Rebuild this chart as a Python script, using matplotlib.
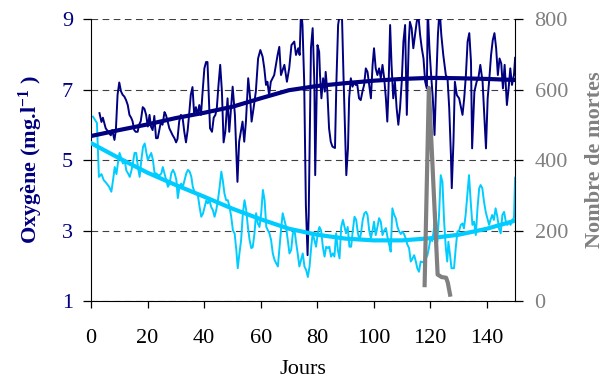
import matplotlib
matplotlib.use('Agg')
import matplotlib.pyplot as plt

plt.rcParams['font.family'] = ['Liberation Serif', 'DejaVu Serif']
plt.rcParams['mathtext.fontset'] = 'custom'
plt.rcParams['mathtext.rm'] = 'Liberation Serif'
plt.rcParams['mathtext.bf'] = 'Liberation Serif:bold'

# --- oxygène, série foncée (surface) ---
jours_fonce = [3.0, 3.7, 4.2, 5.2, 6.1, 7.0, 7.5, 8.3, 8.8, 9.4, 10.0, 10.6, 11.2, 11.8, 12.4, 13.0,
               13.6, 14.2, 14.7, 15.3, 15.8, 16.5, 17.0, 17.6, 18.3, 18.9, 19.5, 20.1, 20.7, 21.2,
               21.8, 22.4, 23.0, 23.6, 24.7, 25.3, 26.0, 26.5, 27.1, 27.7, 28.3, 28.9, 29.5, 30.1,
               30.6, 31.2, 31.8, 32.4, 33.0, 33.6, 34.2, 34.7, 35.3, 35.9, 36.5, 37.1, 37.7, 38.3,
               38.9, 39.4, 40.1, 40.7, 41.2, 41.6, 42.1, 42.8, 43.4, 44.0, 44.5, 45.1, 45.7, 46.3,
               46.9, 47.5, 48.3, 48.9, 50.1, 50.9, 51.8, 52.4, 53.0, 53.6, 54.2, 54.8, 55.6, 56.3,
               56.8, 57.5, 58.3, 59.1, 59.9, 60.7, 61.3, 61.9, 62.4, 63.0, 63.6, 64.8, 66.0, 66.6,
               67.2, 68.4, 69.3, 70.1, 70.9, 71.9, 72.5, 73.3, 73.8, 74.3, 74.8, 75.4, 76.0, 76.6,
               77.0, 77.5, 77.8, 78.4, 79.0, 79.3, 79.8, 80.1, 80.7, 81.0, 81.5, 82.1, 82.7, 83.0,
               83.6, 84.2, 84.8, 85.4, 86.3, 86.8, 87.4, 88.1, 88.7, 89.3, 89.9, 90.3, 90.9, 91.3,
               91.9, 92.5, 93.1, 93.6, 94.2, 94.8, 95.4, 96.0, 96.6, 97.2, 97.8, 98.4, 99.0, 99.6,
               100.1, 100.7, 101.3, 101.9, 102.5, 103.1, 103.7, 104.3, 104.8, 105.2, 105.8, 106.3,
               106.9, 107.5, 108.1, 108.7, 109.3, 109.9, 110.5, 111.1, 111.7, 112.0, 112.4, 112.8,
               113.4, 114.0, 114.6, 115.2, 115.8, 116.4, 117.0, 117.6, 118.2, 118.8, 119.1, 119.7,
               120.3, 120.9, 121.5, 122.1, 122.7, 123.3, 123.9, 124.6, 125.5, 126.1, 126.7, 127.3,
               127.6, 128.2, 128.7, 129.4, 130.2, 131.4, 132.0, 132.6, 133.2, 133.8, 134.4, 134.8,
               135.6, 136.4, 137.0, 137.7, 138.5, 139.7, 140.3, 140.9, 141.5, 142.1, 142.7, 143.3,
               143.9, 144.5, 145.1, 145.7, 146.3, 147.1, 147.7, 148.3, 148.9, 149.6, 150.0]
oxy_fonce = [6.33, 6.08, 6.2, 5.9, 5.8, 5.7, 5.85, 5.57, 5.85, 6.85, 7.2, 6.95, 6.85, 6.8, 6.7, 6.56,
             6.28, 6.2, 6.1, 5.85, 5.8, 5.8, 6.0, 6.1, 6.5, 6.45, 6.28, 5.95, 6.28, 5.95,
             5.85, 6.25, 5.62, 5.62, 6.07, 6.0, 6.36, 6.28, 6.1, 5.9, 5.8, 5.7, 5.62, 5.5,
             5.6, 6.1, 6.28, 6.2, 5.8, 5.5, 5.85, 6.28, 6.85, 7.07, 6.28, 6.5, 6.28, 6.56,
             6.28, 6.85, 7.6, 7.78, 7.78, 6.95, 5.9, 5.8, 6.2, 6.28, 6.47, 7.13, 7.7, 6.95,
             5.5, 5.8, 6.75, 5.8, 7.08, 6.28, 4.38, 5.52, 5.8, 6.09, 5.52, 6.09, 7.32, 6.75,
             6.09, 6.47, 6.94, 7.88, 8.12, 7.93, 7.6, 7.13, 7.22, 6.84, 7.22, 7.41, 7.98, 8.21,
             7.41, 7.7, 7.22, 7.6, 8.26, 8.36, 7.98, 8.17, 7.98, 9.3, 8.83, 7.22, 3.72, 2.3,
             3.44, 6.28, 8.18, 8.74, 7.22, 4.57, 6.75, 8.26, 8.07, 7.41, 6.75, 7.32, 6.94, 7.5,
             6.94, 5.9, 5.52, 5.38, 5.34, 7.22, 8.83, 9.2, 9.3, 7.41, 5.71, 4.57, 5.34, 6.75,
             7.32, 7.08, 7.22, 7.13, 7.13, 6.75, 6.7, 6.94, 7.13, 7.6, 7.5, 7.13, 6.75, 7.7,
             8.17, 7.6, 7.41, 7.6, 7.32, 7.7, 7.32, 6.75, 6.09, 6.94, 8.83, 7.7,
             6.75, 7.22, 6.47, 6.0, 6.47, 7.22, 8.36, 8.83, 6.28, 7.22, 8.36, 8.92,
             8.74, 8.17, 8.55, 8.92, 9.1, 8.55, 8.17, 7.88, 7.22, 7.03, 9.3, 8.17,
             7.41, 6.75, 5.71, 7.22, 8.55, 9.3, 8.55, 7.98, 7.41, 7.32, 6.47, 5.14,
             4.2, 5.52, 7.22, 6.84, 6.75, 6.28, 6.75, 7.41, 8.36, 8.6, 7.79, 5.33,
             6.94, 7.22, 7.32, 7.7, 7.22, 5.33, 6.75, 7.32, 7.98, 8.4, 8.6, 8.17,
             7.41, 7.88, 7.74, 7.03, 7.7, 6.56, 7.03, 7.6, 7.13, 7.41, 7.9]

# --- oxygène, série claire (fond) ---
jours_clair = [0.7, 2.1, 2.8, 3.7, 4.5, 5.4, 6.4, 7.2, 7.8, 8.4, 9.0, 9.5, 10.1, 10.7, 11.3, 11.9,
               12.5, 13.1, 13.7, 14.3, 14.8, 15.4, 16.0, 16.6, 17.2, 17.8, 18.4, 19.0, 19.6, 20.1,
               20.7, 21.3, 21.9, 22.5, 23.1, 23.7, 24.3, 24.9, 25.4, 26.0, 26.6, 27.2, 27.8, 28.4,
               29.0, 29.6, 30.2, 30.7, 31.3, 31.9, 32.5, 33.1, 33.7, 34.3, 34.9, 35.5, 36.0, 36.6,
               37.2, 37.8, 38.4, 39.0, 39.6, 40.2, 40.8, 41.3, 41.9, 42.5, 43.1, 43.7, 44.3, 44.9,
               45.5, 46.1, 46.6, 47.2, 47.8, 48.4, 49.0, 49.6, 50.2, 50.8, 51.4, 51.9, 52.5, 53.1,
               53.7, 54.3, 54.9, 55.5, 56.1, 56.7, 57.2, 57.8, 58.4, 59.0, 59.6, 60.2, 60.8, 61.4,
               62.0, 62.6, 63.1, 63.7, 64.3, 64.9, 65.5, 66.1, 66.7, 67.3, 67.8, 68.4, 69.0, 69.6,
               70.2, 70.8, 71.4, 72.0, 72.6, 73.1, 73.7, 74.3, 74.9, 75.5, 76.1, 76.7, 77.3, 77.9,
               78.4, 79.0, 79.6, 80.2, 80.8, 81.4, 82.0, 82.6, 83.2, 83.8, 84.3, 84.9, 85.5, 86.1,
               86.7, 87.3, 87.9, 88.5, 89.1, 89.7, 90.2, 90.8, 91.4, 92.0, 92.6, 93.2, 93.8, 94.4,
               95.0, 95.5, 96.1, 96.7, 97.3, 97.8, 98.4, 99.0, 99.6, 100.1, 100.7, 101.3, 101.9,
               102.5, 103.1, 103.7, 104.3, 104.9, 105.5, 106.0, 106.6, 107.2, 107.8, 108.4, 109.0,
               109.6, 110.1, 110.7, 111.3, 111.9, 112.5, 113.1, 113.7, 114.3, 114.9, 115.4, 116.0,
               116.6, 117.2, 117.8, 118.4, 119.0, 119.5, 120.1, 120.7, 121.3, 121.9, 122.5, 123.1,
               123.7, 124.3, 124.9, 125.5, 126.0, 126.4, 127.0, 127.5, 128.4, 129.0, 129.6, 130.2,
               130.8, 131.4, 131.9, 132.5, 133.1, 133.7, 134.3, 134.9, 135.5, 136.1, 136.7, 137.3,
               137.8, 138.4, 139.0, 139.6, 140.2, 140.8, 141.3, 141.9, 142.5, 143.1, 143.7, 144.3,
               144.9, 145.5, 146.1, 146.6, 147.2, 147.8, 148.4, 149.0, 149.6, 150.0]
oxy_clair = [6.23, 6.05, 4.52, 4.6, 4.43, 4.35, 4.24, 4.1, 4.43, 4.8, 4.6, 4.9, 5.2, 5.05, 4.9, 5.0,
             4.7, 4.62, 4.52, 4.7, 4.9, 5.2, 5.2, 4.8, 4.52, 5.0, 5.37, 5.47, 5.2, 5.0,
             5.1, 5.2, 5.0, 4.62, 4.62, 4.57, 4.57, 4.62, 4.8, 4.62, 4.43, 4.24, 4.33, 4.62,
             4.72, 4.62, 4.43, 3.92, 4.24, 4.33, 4.24, 4.43, 4.62, 4.72, 4.67, 4.52, 4.24, 4.1,
             4.05, 4.0, 3.67, 3.39, 3.48, 3.67, 3.86, 3.77, 3.86, 3.67, 3.58, 3.39, 3.58, 3.86,
             4.24, 4.67, 4.43, 4.05, 3.86, 3.86, 3.67, 3.39, 3.0, 2.92, 2.45, 1.93, 2.35, 2.73,
             3.48, 3.86, 3.58, 3.1, 2.73, 2.5, 2.53, 2.9, 3.49, 3.2, 3.1, 3.49, 4.15, 3.86,
             3.1, 3.0, 2.92, 2.73, 2.35, 2.17, 2.07, 1.98, 2.54, 3.1, 3.49, 3.3, 3.1, 2.73,
             2.35, 2.45, 2.92, 3.0, 2.63, 2.35, 1.98, 2.17, 2.35, 1.98, 1.88, 1.68, 1.98, 2.54,
             2.92, 2.73, 2.54, 2.92, 3.1, 3.0, 2.54, 2.26, 2.54, 2.5, 2.54, 2.26, 2.35, 2.26,
             2.92, 2.45, 2.21, 3.1, 3.3, 3.1, 2.92, 3.1, 2.54, 2.54, 3.0, 3.39, 3.3, 2.92,
             2.73, 2.92, 3.3, 3.49, 3.53, 3.44, 3.0, 2.79, 3.0, 3.25, 2.87, 3.1, 3.35,
             3.25, 2.87, 3.0, 3.07, 2.8, 2.59, 2.4, 3.63, 3.45, 3.35, 3.1, 2.97,
             2.9, 2.97, 2.9, 2.78, 2.6, 2.5, 2.12, 2.2, 2.3, 2.12, 1.93, 1.83,
             2.12, 2.1, 2.12, 2.2, 2.3, 2.5, 2.78, 2.7, 3.06, 3.53, 2.68, 3.44,
             4.57, 4.38, 3.25, 2.5, 2.12, 2.68, 2.3, 1.93, 1.93, 2.5, 2.97, 3.0,
             3.16, 3.2, 3.06, 3.44, 4.0, 4.57, 3.82, 3.16, 3.25, 2.87, 3.63, 4.2,
             4.29, 4.2, 3.82, 3.53, 3.35, 3.16, 3.3, 3.44, 3.3, 3.63, 3.4, 3.06,
             2.92, 3.44, 3.53, 3.3, 3.16, 3.25, 3.16, 3.3, 3.35, 4.5]

# --- tendances ---
jours_tend = [0, 10, 20, 30, 40, 50, 60, 70, 80, 90, 100, 110, 120, 130, 140, 150]
tend_fonce = [5.68, 5.85, 6.01, 6.19, 6.34, 6.51, 6.75, 6.98, 7.1, 7.18, 7.25, 7.3, 7.33, 7.32, 7.3, 7.27]
tend_clair = [5.48, 5.05, 4.64, 4.29, 3.96, 3.62, 3.32, 3.05, 2.88, 2.77, 2.72, 2.72, 2.78, 2.88, 3.05, 3.28]

# --- mortalité ---
jours_morts = [118, 119.5, 122.6, 124, 125.6, 126.2, 127]
morts = [45, 605, 75, 68, 66, 52, 18]

NAVY = '#000080'
CLAIR = '#00CCFF'
GRIS = '#808080'

fig = plt.figure(figsize=(6.05, 3.78), dpi=100)
ax = fig.add_axes([0.1504, 0.2037, 0.701, 0.746])

ax.plot(jours_fonce, oxy_fonce, color=NAVY, linewidth=1.4, zorder=2)
ax.plot(jours_clair, oxy_clair, color=CLAIR, linewidth=1.4, zorder=2)
ax.plot(jours_tend, tend_fonce, color=NAVY, linewidth=3.0, zorder=3)
ax.plot(jours_tend, tend_clair, color=CLAIR, linewidth=3.0, zorder=3)

ax.set_xlim(0, 150)
ax.set_ylim(1, 9)
ax.set_xticks(range(0, 141, 20))
ax.set_yticks([1, 3, 5, 7, 9])
ax.yaxis.grid(True, linestyle=(0, (6, 4)), color='#404040', linewidth=0.8)
ax.set_axisbelow(True)

ax.spines['top'].set_visible(False)
ax.spines['right'].set_visible(False)
ax.tick_params(axis='y', direction='out', length=6, width=0.9, labelsize=16,
               labelcolor=NAVY, pad=7)
ax.tick_params(axis='x', direction='out', length=5, width=0.9, labelsize=16, pad=15)
ax.set_xlabel('Jours', fontsize=16, labelpad=9)
ax.set_ylabel('Oxygène (mg.l$\\mathbf{^{-1}}$ )', fontsize=16, fontweight='bold',
              color=NAVY, labelpad=12)

ax2 = ax.twinx()
ax2.plot(jours_morts, morts, color=GRIS, linewidth=3.0)
ax2.set_ylim(0, 800)
ax2.set_yticks(range(0, 801, 200))
ax2.spines['top'].set_visible(False)
ax2.spines['left'].set_visible(False)
ax2.spines['bottom'].set_visible(False)
ax2.tick_params(axis='y', direction='out', length=6, width=0.9, labelsize=16,
                labelcolor=GRIS, pad=8)
ax2.set_ylabel('Nombre de mortes', fontsize=16, fontweight='bold', color=GRIS,
               rotation=90, labelpad=12)

fig.savefig('out.png', dpi=100)
